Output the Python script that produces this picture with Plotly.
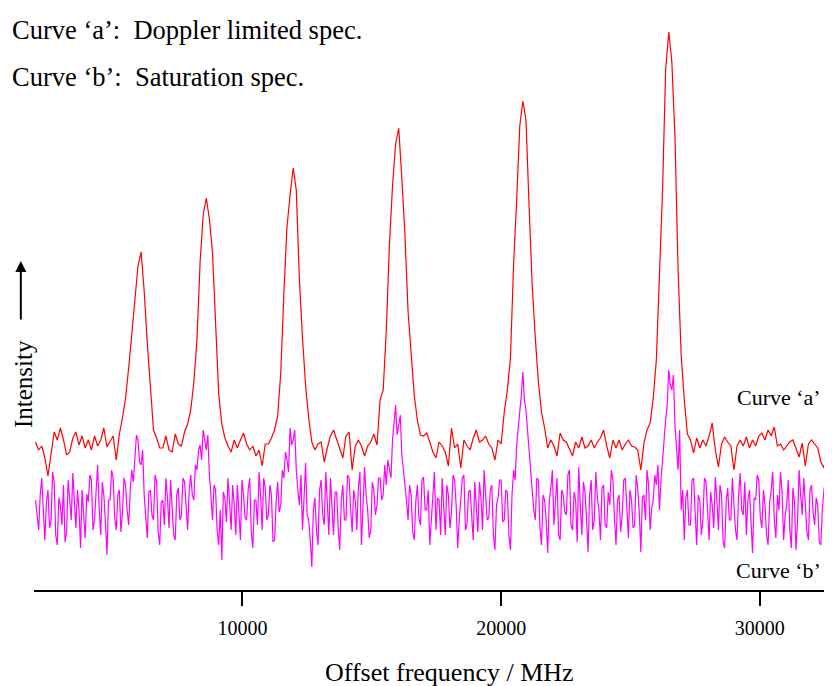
import plotly.graph_objects as go

# Sampling grids of the recorded spectra (MHz)
FREQ_START = 2000
STEP_A = 120
STEP_B = 60

# Curve 'a': Doppler limited spectrum (arbitrary intensity units)
curve_a = [
    148, 140, 144, 132, 114, 138, 158, 150, 162, 150,
    135, 138, 152, 158, 145, 154, 142, 150, 140, 154,
    144, 150, 162, 143, 148, 154, 130, 156, 172, 192,
    222, 257, 294, 324, 338, 299, 247, 198, 160, 152,
    142, 142, 154, 140, 138, 156, 146, 144, 158, 166,
    180, 208, 250, 327, 375, 392, 371, 338, 263, 196,
    166, 152, 144, 138, 150, 142, 150, 157, 146, 140,
    144, 134, 140, 124, 146, 146, 152, 160, 174, 217,
    297, 363, 395, 422, 400, 310, 252, 204, 172, 148,
    140, 146, 148, 128, 142, 154, 160, 150, 140, 132,
    154, 158, 120, 144, 150, 144, 134, 144, 148, 156,
    145, 190, 200, 260, 345, 404, 446, 462, 412, 356,
    279, 238, 195, 170, 155, 154, 157, 148, 138, 132,
    148, 144, 138, 124, 162, 142, 146, 122, 150, 144,
    140, 152, 160, 148, 150, 154, 146, 142, 130, 150,
    146, 178, 200, 232, 325, 390, 464, 489, 470, 384,
    305, 252, 208, 178, 162, 142, 150, 144, 134, 157,
    150, 148, 140, 134, 148, 142, 153, 142, 144, 150,
    142, 148, 152, 160, 144, 132, 150, 142, 150, 140,
    146, 150, 144, 143, 140, 120, 147, 160, 167, 192,
    230, 315, 400, 520, 558, 528, 453, 320, 235, 190,
    156, 150, 137, 152, 142, 150, 144, 154, 167, 140,
    123, 146, 153, 148, 144, 120, 144, 150, 144, 153,
    142, 150, 144, 154, 157, 150, 160, 154, 163, 144,
    146, 140, 144, 148, 150, 142, 133, 147, 124, 146,
    150, 146, 142, 128, 122, 144, 140,
]

# Curve 'b': Saturation spectrum (arbitrary intensity units)
curve_b = [
    90, 72, 60, 95, 112, 80, 50, 88, 100, 62,
    70, 118, 108, 55, 45, 92, 85, 65, 105, 48,
    58, 110, 92, 70, 117, 88, 62, 100, 80, 42,
    100, 75, 52, 96, 88, 115, 110, 60, 70, 98,
    125, 82, 55, 108, 95, 68, 35, 90, 90, 120,
    112, 72, 60, 95, 100, 58, 78, 112, 105, 80,
    65, 100, 120, 108, 135, 155, 150, 128, 125, 140,
    95, 72, 52, 98, 100, 75, 70, 115, 108, 58,
    45, 88, 90, 65, 112, 92, 62, 110, 85, 55,
    50, 96, 102, 70, 75, 112, 108, 80, 60, 100,
    115, 95, 90, 125, 120, 140, 145, 130, 160, 150,
    140, 155, 115, 95, 70, 105, 100, 60, 45, 80,
    30, 98, 92, 68, 112, 88, 60, 105, 85, 55,
    105, 78, 50, 110, 95, 72, 70, 100, 112, 58,
    42, 90, 90, 65, 118, 95, 60, 112, 102, 70,
    75, 105, 95, 48, 50, 88, 108, 78, 85, 120,
    112, 138, 130, 118, 162, 145, 150, 160, 120, 100,
    85, 115, 60, 92, 127, 75, 70, 50, 23, 80,
    92, 60, 45, 100, 110, 75, 65, 118, 90, 55,
    112, 85, 55, 98, 98, 62, 40, 90, 105, 70,
    70, 115, 112, 82, 58, 100, 90, 60, 102, 118,
    45, 85, 123, 95, 80, 52, 60, 108, 100, 75,
    85, 112, 112, 90, 95, 125, 105, 130, 120, 112,
    150, 168, 185, 155, 165, 175, 135, 120, 110, 90,
    70, 105, 95, 58, 50, 88, 105, 72, 65, 110,
    113, 80, 80, 100, 45, 68, 100, 118, 60, 92,
    90, 55, 112, 78, 55, 105, 95, 62, 78, 115,
    110, 85, 42, 70, 90, 112, 115, 60, 65, 98,
    100, 75, 50, 108, 85, 58, 108, 92, 60, 120,
    95, 70, 72, 100, 105, 55, 40, 85, 92, 110,
    110, 68, 70, 100, 98, 55, 40, 95, 120, 110,
    145, 160, 175, 195, 218, 190, 180, 160, 135, 118,
    100, 80, 70, 112, 110, 62, 45, 95, 90, 70,
    37, 88, 102, 120, 65, 90, 112, 55, 50, 100,
    95, 78, 75, 115, 120, 65, 60, 98, 90, 48,
    123, 85, 55, 108, 98, 72, 38, 95, 110, 60,
    70, 118, 92, 80, 50, 102, 105, 65, 62, 98,
    85, 120, 110, 72, 45, 90, 95, 58, 75, 110,
    112, 82, 52, 100, 90, 62, 65, 115, 102, 78,
    38, 92, 95, 70, 120, 105, 60, 82, 90, 115,
    105, 125, 80, 110, 135, 150, 170, 185, 220, 205,
    200, 215, 165, 140, 120, 160, 80, 100, 50, 92,
    100, 65, 65, 110, 112, 78, 45, 95, 90, 55,
    70, 112, 108, 80, 50, 98, 85, 62, 113, 90,
    60, 105, 95, 48, 42, 88, 102, 70, 70, 112,
    90, 60, 50, 95, 117, 80, 75, 108, 55, 90,
    100, 68, 37, 92, 90, 115, 110, 72, 62, 100,
    85, 55, 45, 88, 100, 118, 70, 52, 95, 80,
    118, 98, 50, 75, 85, 110, 60, 42, 102, 88,
    40, 70, 120, 95, 75, 112, 90, 58, 50, 100,
    105, 78, 65, 92, 85, 48, 45, 82, 100, 110,
    60, 75, 37,
]

tick_vals = [10000, 20000, 30000]
tick_text = ["10000", "20000", "30000"]

SERIF = "Liberation Serif, Times New Roman, serif"
NB = "\u00a0"

fig = go.Figure()
fig.add_trace(go.Scatter(
    x0=FREQ_START, dx=STEP_B, y=curve_b, mode="lines",
    line=dict(color="#ff00ff", width=1.2), hoverinfo="skip", showlegend=False,
))
fig.add_trace(go.Scatter(
    x0=FREQ_START, dx=STEP_A, y=curve_a, mode="lines",
    line=dict(color="#ff0000", width=1.2), hoverinfo="skip", showlegend=False,
))

fig.update_layout(
    width=824, height=678,
    margin=dict(l=26, r=0, t=12, b=96),
    paper_bgcolor="white", plot_bgcolor="white",
    font=dict(family=SERIF, color="black"),
    xaxis=dict(
        range=[1940, 32791], showgrid=False, zeroline=False,
        showline=True, linecolor="black", linewidth=1.5,
        ticks="outside", ticklen=14, tickwidth=1.5, tickcolor="black",
        tickvals=tick_vals, ticktext=tick_text,
        tickfont=dict(family=SERIF, size=20, color="black"),
        ticklabelstandoff=5,
    ),
    yaxis=dict(range=[0, 570], visible=False),
    annotations=[
        dict(text="Curve ‘a’:" + NB + " Doppler limited spec.", xref="paper", yref="paper",
             x=-0.0300, y=0.9825, xanchor="left", yanchor="middle", showarrow=False,
             font=dict(size=26.5)),
        dict(text="Curve ‘b’:" + NB + " Saturation spec.", xref="paper", yref="paper",
             x=-0.0300, y=0.90, xanchor="left", yanchor="middle", showarrow=False,
             font=dict(size=26.5)),
        dict(text="Curve ‘a’", xref="paper", yref="paper",
             x=0.9885, y=0.337, xanchor="right", yanchor="middle", showarrow=False,
             font=dict(size=22)),
        dict(text="Curve ‘b’", xref="paper", yref="paper",
             x=0.9885, y=0.035, xanchor="right", yanchor="middle", showarrow=False,
             font=dict(size=22)),
        dict(text="Offset frequency / MHz", xref="paper", yref="paper",
             x=0.521, y=-0.144, xanchor="center", yanchor="middle", showarrow=False,
             font=dict(size=26)),
        dict(text="Intensity", xref="paper", yref="paper", textangle=-90,
             x=-0.0140, y=0.361, xanchor="center", yanchor="middle", showarrow=False,
             font=dict(size=25)),
        dict(text="", xref="paper", yref="paper", x=-0.0165, y=0.577,
             showarrow=True, ax=0, ay=60, arrowhead=2, arrowsize=1.1,
             arrowwidth=2, arrowcolor="black"),
    ],
)

fig.write_html("out.html")
